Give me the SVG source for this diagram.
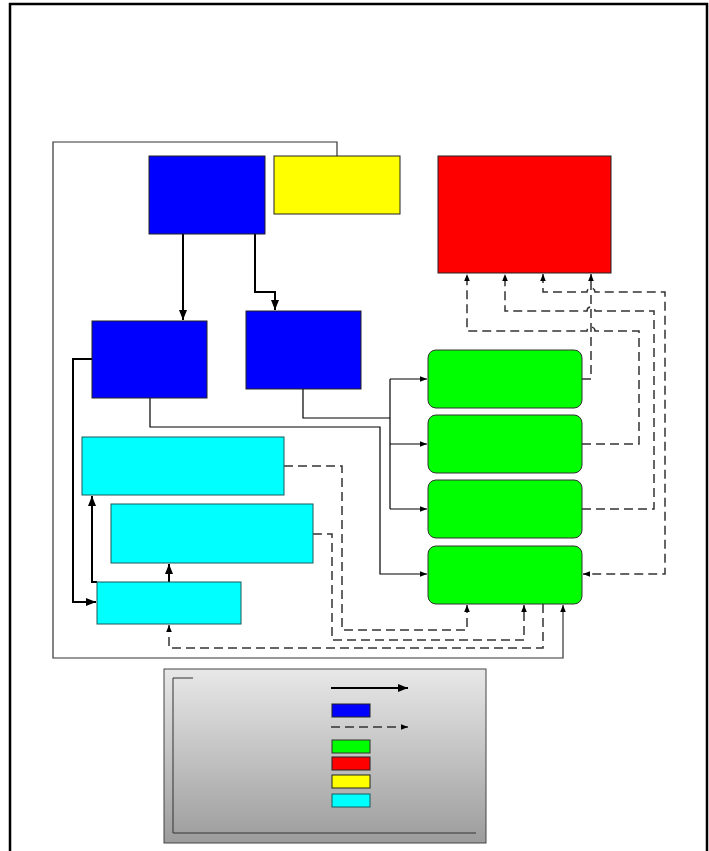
<svg xmlns="http://www.w3.org/2000/svg" width="709" height="851" viewBox="0 0 709 851">
<style>
.box{stroke:#222;stroke-width:1}
.blue{fill:#0000ff}
.yellow{fill:#ffff00}
.red{fill:#ff0000}
.green{fill:#00ff00;stroke:#333}
.cyan{fill:#00ffff;stroke:#1a5a5a}
.thick{fill:none;stroke:#000;stroke-width:2}
.thin{fill:none;stroke:#000;stroke-width:1.2}
.gray{fill:none;stroke:#333;stroke-width:1.2}
.dash{fill:none;stroke:#333;stroke-width:1.5;stroke-dasharray:9,5}
</style>
<defs>
<linearGradient id="lg" x1="0" y1="0" x2="0" y2="1">
<stop offset="0" stop-color="#e8e8e8"/>
<stop offset="1" stop-color="#9c9c9c"/>
</linearGradient>
<marker id="ah" viewBox="0 0 10 10" refX="10" refY="5" markerWidth="7" markerHeight="7" markerUnits="userSpaceOnUse" orient="auto-start-reverse">
<path d="M0,1 L10,5 L0,9 Z" fill="#000"/>
</marker>
<marker id="ahb" viewBox="0 0 10 10" refX="10" refY="5" markerWidth="10" markerHeight="10" markerUnits="userSpaceOnUse" orient="auto">
<path d="M0,1 L10,5 L0,9 Z" fill="#000"/>
</marker>
</defs>
<rect x="0" y="0" width="709" height="851" fill="#fff"/>
<rect id="frame" x="10" y="4" width="697" height="900" fill="none" stroke="#000" stroke-width="2.5"/>

<g id="connectors">
<path class="gray" d="M337,156 V142 H53 V658 H563 V605" marker-end="url(#ah)"/>
<path class="thick" d="M183,234 V320" marker-end="url(#ahb)"/>
<path class="thick" d="M255,234 V292 H275 V310" marker-end="url(#ahb)"/>
<path class="thick" d="M92,359 H73 V602 H96" marker-end="url(#ahb)"/>
<path class="thick" d="M97,582 H92 V496" marker-end="url(#ahb)"/>
<path class="thick" d="M169,582 V564" marker-end="url(#ahb)"/>
<path class="thin" d="M303,389 V418 H390"/>
<path class="thin" d="M390,379 V509"/>
<path class="thin" d="M390,379 H427" marker-end="url(#ah)"/>
<path class="thin" d="M390,444 H427" marker-end="url(#ah)"/>
<path class="thin" d="M390,509 H427" marker-end="url(#ah)"/>
<path class="thin" d="M150,398 V427 H380 V574 H427" marker-end="url(#ah)"/>
<path class="dash" d="M284,466 H342 V630 H467 V605" marker-end="url(#ah)"/>
<path class="dash" d="M313,534 H332 V640 H524 V605" marker-end="url(#ah)"/>
<path class="dash" d="M543,604 V648 H169 V625" marker-end="url(#ah)"/>
<path class="dash" d="M582,379 H591 V274" marker-end="url(#ah)"/>
<path class="dash" d="M582,444 H639 V331 H595 A4,4 0 0 0 587,331 H467 V274" marker-end="url(#ah)"/>
<path class="dash" d="M582,509 H654 V311 H595 A4,4 0 0 0 587,311 H505 V274" marker-end="url(#ah)"/>
<path class="dash" d="M543,274 V292 H587 A4,4 0 0 1 595,292 H665 V574 H583" marker-start="url(#ah)" marker-end="url(#ah)"/>
</g>

<g id="blue1"><rect class="box blue" x="149" y="156" width="116" height="78"/></g>
<g id="yellow1"><rect class="box yellow" x="274" y="156" width="126" height="58"/></g>
<g id="red1"><rect class="box red" x="438" y="156" width="173" height="117"/></g>
<g id="blue2"><rect class="box blue" x="92" y="321" width="115" height="77"/></g>
<g id="blue3"><rect class="box blue" x="246" y="311" width="115" height="78"/></g>
<g id="cyan1"><rect class="box cyan" x="82" y="437" width="202" height="58"/></g>
<g id="cyan2"><rect class="box cyan" x="111" y="504" width="202" height="59"/></g>
<g id="cyan3"><rect class="box cyan" x="97" y="582" width="144" height="42"/></g>
<g id="green1"><rect class="box green" x="428" y="350" width="154" height="58" rx="8"/></g>
<g id="green2"><rect class="box green" x="428" y="415" width="154" height="58" rx="8"/></g>
<g id="green3"><rect class="box green" x="428" y="480" width="154" height="58" rx="8"/></g>
<g id="green4"><rect class="box green" x="428" y="546" width="154" height="58" rx="8"/></g>

<g id="legend">
<rect x="164" y="669" width="322" height="174" fill="url(#lg)" stroke="#444" stroke-width="1"/>
<path d="M193,678 H173 V833 H476" fill="none" stroke="#333" stroke-width="1"/>
<path class="thick" d="M331,688 H408" marker-end="url(#ahb)"/>
<rect class="box blue" x="332" y="704" width="38" height="13"/>
<path class="dash" d="M331,727 H408" marker-end="url(#ah)"/>
<rect class="box green" x="332" y="740" width="38" height="13"/>
<rect class="box red" x="332" y="757" width="38" height="13"/>
<rect class="box yellow" x="332" y="775" width="38" height="13"/>
<rect class="box cyan" x="332" y="794" width="38" height="13"/>
</g>
</svg>
